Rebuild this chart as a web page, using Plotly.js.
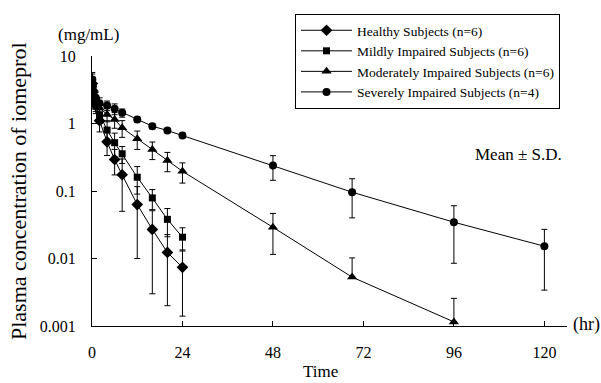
<!DOCTYPE html>
<html>
<head>
<meta charset="utf-8">
<script src="https://cdn.plot.ly/plotly-3.0.1.min.js"></script>
<style>html,body{margin:0;padding:0;background:#fff;}#chart{width:601px;height:383px;}</style>
</head>
<body>
<div id="chart"></div>
<script>
// Time points (hr)
var timesHealthy  = [0.083, 0.25, 0.5, 1, 2, 4, 6, 8, 12, 16, 20, 24];
var timesMild     = [0.083, 0.25, 0.5, 1, 2, 4, 6, 8, 12, 16, 20, 24];
var timesModerate = [0.083, 0.25, 0.5, 1, 2, 4, 6, 8, 12, 16, 20, 24, 48, 69, 96];
var timesSevere   = [0.083, 0.25, 0.5, 1, 2, 4, 6, 8, 12, 16, 20, 24, 48, 69, 96, 120];

// Mean plasma concentrations (mg/mL)
var meanHealthy  = [3.9, 3.0, 2.4, 1.9, 1.1, 0.535, 0.293, 0.174, 0.063, 0.027, 0.0123, 0.0074];
var meanMild     = [3.6, 2.7, 2.2, 1.8, 1.35, 0.80, 0.52, 0.356, 0.16, 0.079, 0.038, 0.0207];
var meanModerate = [4.2, 3.3, 2.7, 2.2, 1.7, 1.36, 1.15, 0.863, 0.593, 0.412, 0.283, 0.196, 0.029, 0.0053, 0.00115];
var meanSevere   = [4.5, 3.6, 2.9, 2.4, 2.0, 1.85, 1.65, 1.44, 1.15, 0.912, 0.787, 0.664, 0.239, 0.096, 0.0345, 0.0152];

// Standard deviations (upper bars)
var sdHealthy  = [1.0, 0.6, 0.4, 0.4, 0.35, 0.2, 0.12, 0.124, 0.053, 0.024, 0.0103, 0.006];
var sdMild     = [0.8, 0.5, 0.4, 0.4, 0.35, 0.3, 0.2, 0.1, 0.07, 0.026, 0.017, 0.0078];
var sdModerate = [1.2, 0.8, 0.5, 0.4, 0.3, 0.3, 0.3, 0.24, 0.18, 0.12, 0.09, 0.065, 0.0175, 0.0049, 0.00142];
var sdSevere   = [1.2, 0.8, 0.6, 0.5, 0.4, 0.3, 0.3, 0.2, 0.1, 0.08, 0.06, 0.05, 0.095, 0.056, 0.026, 0.0118];
// Lower bars as drawn (moderate group's last two have no lower bar shown)
var sdModerateLower = [1.2, 0.8, 0.5, 0.4, 0.3, 0.3, 0.3, 0.24, 0.18, 0.12, 0.09, 0.065, 0.0175, 0, 0];

var seriesNames = ['Healthy Subjects (n=6)', 'Mildly Impaired Subjects (n=6)',
                   'Moderately Impaired Subjects (n=6)', 'Severely Impaired Subjects (n=4)'];
var xTickVals = [0, 24, 48, 72, 96, 120];
var yTickVals = [0.001, 0.01, 0.1, 1, 10];
var yTickText = ['0.001', '0.01', '0.1', '1', '10'];

var serif = 'Liberation Serif';
function mk(x, y, sd, sdLow, name, symbol, size) {
  return {
    type: 'scatter', mode: 'lines+markers', name: name,
    x: x, y: y,
    line: {color: '#000', width: 1},
    marker: {symbol: symbol, size: size, color: '#000'},
    error_y: {type: 'data', array: sd, arrayminus: sdLow, symmetric: false,
              color: '#000', thickness: 1, width: 3},
    cliponaxis: true
  };
}
var data = [
  mk(timesHealthy, meanHealthy, sdHealthy, sdHealthy, seriesNames[0], 'diamond', 9),
  mk(timesMild, meanMild, sdMild, sdMild, seriesNames[1], 'square', 7),
  mk(timesModerate, meanModerate, sdModerate, sdModerateLower, seriesNames[2], 'triangle-up', 9),
  mk(timesSevere, meanSevere, sdSevere, sdSevere, seriesNames[3], 'circle', 8)
];

var layout = {
  width: 601, height: 383,
  margin: {l: 92, r: 34, t: 56, b: 57, pad: 0},
  paper_bgcolor: '#fff', plot_bgcolor: '#fff',
  font: {family: serif, color: '#000', size: 16},
  showlegend: true,
  legend: {
    x: 0.4274, y: 1.1556, xanchor: 'left', yanchor: 'top',
    bordercolor: '#000', borderwidth: 1, bgcolor: '#fff',
    font: {family: serif, size: 13.5, color: '#000'},
    itemwidth: 51, tracegroupgap: 0
  },
  xaxis: {
    range: [0, 126], tickvals: xTickVals, ticktext: xTickVals.map(String),
    ticks: 'inside', ticklen: 5, tickcolor: '#000',
    showline: true, linecolor: '#000', linewidth: 1,
    showgrid: false, zeroline: false,
    tickfont: {family: serif, size: 16, color: '#000'},
    ticklabelstandoff: 12
  },
  yaxis: {
    type: 'log', range: [-3, 1], tickvals: yTickVals, ticktext: yTickText,
    ticks: 'inside', ticklen: 5, tickcolor: '#000',
    showline: true, linecolor: '#000', linewidth: 1,
    showgrid: false, zeroline: false,
    tickfont: {family: serif, size: 16, color: '#000'},
    ticklabelstandoff: 12
  },
  annotations: [
    {text: 'Plasma concentration of iomeprol', xref: 'paper', yref: 'paper',
     x: -0.1558, y: 0.5, xanchor: 'center', yanchor: 'middle', textangle: -90,
     showarrow: false, font: {family: serif, size: 22, color: '#000'}},
    {text: '(mg/mL)', xref: 'paper', yref: 'paper', x: -0.0084, y: 1.078,
     xanchor: 'center', yanchor: 'middle', showarrow: false,
     font: {family: serif, size: 17, color: '#000'}},
    {text: '(hr)', xref: 'paper', yref: 'paper', x: 1.04, y: 0.007,
     xanchor: 'center', yanchor: 'middle', showarrow: false,
     font: {family: serif, size: 18, color: '#000'}},
    {text: 'Time', xref: 'paper', yref: 'paper', x: 0.48, y: -0.170,
     xanchor: 'center', yanchor: 'middle', showarrow: false,
     font: {family: serif, size: 17, color: '#000'}},
    {text: 'Mean ± S.D.', xref: 'paper', yref: 'paper', x: 0.897, y: 0.637,
     xanchor: 'center', yanchor: 'middle', showarrow: false,
     font: {family: serif, size: 17, color: '#000'}}
  ]
};

Plotly.newPlot('chart', data, layout, {displayModeBar: false, staticPlot: true});
</script>
</body>
</html>
